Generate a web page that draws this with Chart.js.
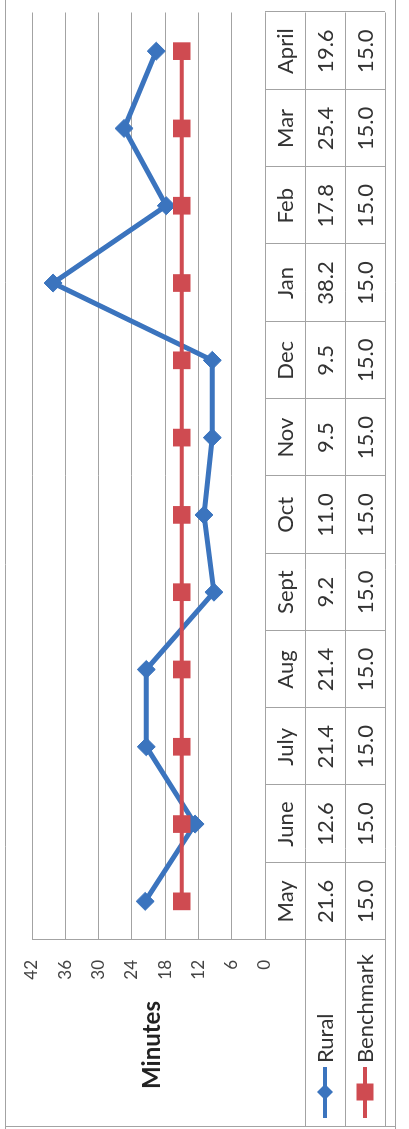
<!DOCTYPE html>
<html>
<head>
<meta charset="utf-8">
<script src="https://cdn.jsdelivr.net/npm/chart.js@4/dist/chart.umd.min.js"></script>
<style>
  html, body { margin: 0; padding: 0; background: #fff; overflow: hidden; }
  #wrap {
    position: absolute; left: 0; top: 0;
    width: 1129px; height: 409px;
    transform-origin: 0 0;
    transform: translate(0, 1129px) rotate(-90deg);
    background: #fff;
  }
</style>
</head>
<body>
<div id="wrap"><canvas id="c" width="1129" height="409"></canvas></div>
<script>
const months = ['May', 'June', 'July', 'Aug', 'Sept', 'Oct', 'Nov', 'Dec', 'Jan', 'Feb', 'Mar', 'April'];
const rural = [21.6, 12.6, 21.4, 21.4, 9.2, 11.0, 9.5, 9.5, 38.2, 17.8, 25.4, 19.6];
const benchmark = [15.0, 15.0, 15.0, 15.0, 15.0, 15.0, 15.0, 15.0, 15.0, 15.0, 15.0, 15.0];
const seriesNames = ['Rural', 'Benchmark'];
const axisTitle = 'Minutes';
const yMin = 0, yMax = 42, yStep = 6;

const BLUE = '#3b74be';
const RED = '#cf4b51';
const GRID = '#a3a3a3';
const TXT = '#333333';
const FONT = 'Lato, "Open Sans", sans-serif';

const tablePlugin = {
  id: 'dataTable',
  afterDraw(chart) {
    const ctx = chart.ctx;
    const xs = chart.scales.x;
    const ys = chart.scales.y;
    const ca = chart.chartArea;
    const n = months.length;
    const c0 = xs.getPixelForValue(0), c1 = xs.getPixelForValue(1);
    const half = (c1 - c0) / 2;
    const rowH = 40;
    const r0 = ys.getPixelForValue(yMin);
    const rows = [r0, r0 + rowH, r0 + 2 * rowH, r0 + 3 * rowH];
    const legLeft = 2;
    ctx.save();
    ctx.strokeStyle = GRID;
    ctx.lineWidth = 1;
    ctx.beginPath();
    ctx.moveTo(ca.left, rows[0] + 0.5); ctx.lineTo(ca.right, rows[0] + 0.5);
    for (let k = 1; k < 4; k++) {
      ctx.moveTo(legLeft, rows[k] + 0.5); ctx.lineTo(ca.right, rows[k] + 0.5);
    }
    for (let i = 0; i <= n; i++) {
      const u = Math.round(xs.getPixelForValue(i) - half) + 0.5;
      ctx.moveTo(u, rows[0]); ctx.lineTo(u, rows[3]);
    }
    ctx.moveTo(legLeft + 0.5, 5); ctx.lineTo(legLeft + 0.5, 395);
    ctx.stroke();
    ctx.beginPath();
    ctx.moveTo(0, 5.5); ctx.lineTo(1129, 5.5);
    ctx.moveTo(0, 395.5); ctx.lineTo(1129, 395.5);
    ctx.stroke();

    ctx.fillStyle = TXT;
    ctx.font = '22px ' + FONT;
    ctx.textAlign = 'center';
    ctx.textBaseline = 'middle';
    for (let i = 0; i < n; i++) {
      const u = xs.getPixelForValue(i);
      ctx.fillText(months[i], u, rows[0] + rowH / 2 + 1);
      ctx.fillText(rural[i].toFixed(1), u, rows[1] + rowH / 2 + 1);
      ctx.fillText(benchmark[i].toFixed(1), u, rows[2] + rowH / 2 + 1);
    }
    const keys = [
      { name: seriesNames[0], color: BLUE, shape: 'diamond' },
      { name: seriesNames[1], color: RED, shape: 'square' }
    ];
    keys.forEach((k, j) => {
      const v = rows[1 + j] + rowH / 2;
      ctx.strokeStyle = k.color;
      ctx.fillStyle = k.color;
      ctx.lineWidth = 4;
      ctx.beginPath();
      ctx.moveTo(11, v); ctx.lineTo(62, v);
      ctx.stroke();
      ctx.beginPath();
      if (k.shape === 'diamond') {
        ctx.moveTo(37 - 8, v); ctx.lineTo(37, v - 8); ctx.lineTo(37 + 8, v); ctx.lineTo(37, v + 8);
      } else {
        ctx.rect(37 - 8.5, v - 8.5, 17, 17);
      }
      ctx.closePath();
      ctx.fill();
      ctx.fillStyle = TXT;
      ctx.textAlign = 'left';
      ctx.font = '22px ' + FONT;
      ctx.fillText(k.name, 66, v + 1);
    });
    ctx.fillStyle = '#222';
    ctx.font = 'bold 24px ' + FONT;
    ctx.textAlign = 'center';
    ctx.fillText(axisTitle, 84, (ys.top + ys.bottom) / 2 + 4);
    ctx.restore();
  }
};

new Chart(document.getElementById('c'), {
  type: 'line',
  data: {
    labels: months,
    datasets: [
      {
        label: seriesNames[0],
        data: rural,
        borderColor: BLUE,
        backgroundColor: BLUE,
        borderWidth: 5,
        pointStyle: 'rectRot',
        pointRadius: 9,
        pointBorderWidth: 1,
        pointBackgroundColor: BLUE,
        pointBorderColor: BLUE,
        tension: 0,
        order: 1
      },
      {
        label: seriesNames[1],
        data: benchmark,
        borderColor: RED,
        backgroundColor: RED,
        borderWidth: 4,
        pointStyle: 'rect',
        pointRadius: 12.5,
        pointBorderWidth: 0,
        pointBackgroundColor: RED,
        pointBorderColor: RED,
        tension: 0,
        order: 0
      }
    ]
  },
  options: {
    responsive: false,
    maintainAspectRatio: false,
    animation: false,
    events: [],
    layout: { padding: { top: 32, right: 7, left: 0, bottom: 0 } },
    plugins: { legend: { display: false }, tooltip: { enabled: false } },
    scales: {
      x: {
        offset: true,
        grid: { display: false },
        border: { display: false },
        ticks: { display: false },
        afterFit(s) { s.height = 144; }
      },
      y: {
        min: yMin,
        max: yMax,
        ticks: { stepSize: yStep, padding: 20, color: '#444', font: { family: FONT, size: 17 } },
        grid: { color: GRID, lineWidth: 1, drawTicks: false },
        border: { display: true, color: GRID },
        afterFit(s) { s.width = 189; }
      }
    }
  },
  plugins: [tablePlugin]
});
</script>
</body>
</html>
